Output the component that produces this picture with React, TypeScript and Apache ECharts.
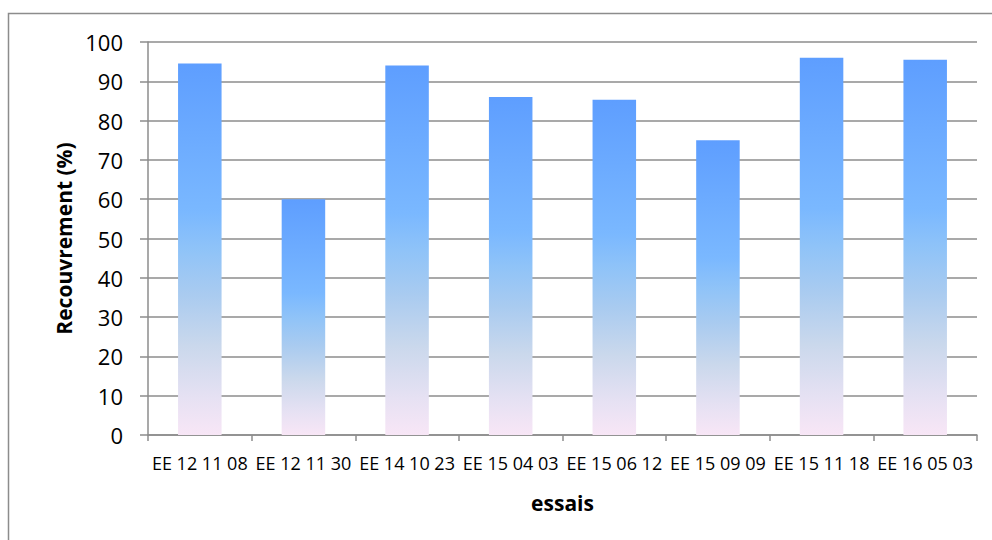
import React, { useEffect, useRef } from "react";
import * as echarts from "echarts";

const categories = [
  "EE 12 11 08",
  "EE 12 11 30",
  "EE 14 10 23",
  "EE 15 04 03",
  "EE 15 06 12",
  "EE 15 09 09",
  "EE 15 11 18",
  "EE 16 05 03",
];
const recouvrement = [94.5, 60, 94, 86, 85.3, 75, 96, 95.5];
const yTitle = "Recouvrement (%)";
const xTitle = "essais";

export default function App() {
  const ref = useRef<HTMLDivElement>(null);
  useEffect(() => {
    if (!ref.current) return;
    const chart = echarts.init(ref.current, undefined, { renderer: "svg" });
    const font = "'Open Sans', 'Noto Sans', sans-serif";
    chart.setOption({
      animation: false,
      backgroundColor: "#ffffff",
      graphic: [
        {
          type: "rect",
          shape: { x: 8.5, y: 13.5, width: 1100, height: 700 },
          style: { fill: "none", stroke: "#8c8c8c", lineWidth: 1.5 },
          silent: true,
        },
      ],
      grid: { left: 148, right: 15, top: 42, bottom: 105, containLabel: false },
      xAxis: {
        type: "category",
        data: categories,
        name: xTitle,
        nameLocation: "middle",
        nameGap: 57,
        nameTextStyle: { fontFamily: font, fontSize: 21, fontWeight: "bold", color: "#000" },
        axisLine: { show: true, lineStyle: { color: "#8c8c8c", width: 1.5 } },
        axisTick: { show: true, alignWithLabel: false, length: 6, lineStyle: { color: "#8c8c8c", width: 1.5 } },
        axisLabel: { interval: 0, fontFamily: font, fontSize: 18, color: "#000", margin: 19 },
        splitLine: { show: false },
      },
      yAxis: {
        type: "value",
        min: 0,
        max: 100,
        interval: 10,
        name: yTitle,
        nameLocation: "middle",
        nameGap: 74,
        nameRotate: 90,
        nameTextStyle: { fontFamily: font, fontSize: 21, fontWeight: "bold", color: "#000" },
        axisLine: { show: true, lineStyle: { color: "#8c8c8c", width: 1.5 } },
        axisTick: { show: true, length: 8, lineStyle: { color: "#8c8c8c", width: 1.5 } },
        axisLabel: { fontFamily: font, fontSize: 22, color: "#000", margin: 25 },
        splitLine: { show: true, lineStyle: { color: "#8c8c8c", width: 1.5 } },
      },
      series: [
        {
          type: "bar",
          data: recouvrement,
          barWidth: "42%",
          itemStyle: {
            color: new echarts.graphic.LinearGradient(0, 0, 0, 1, [
              { offset: 0, color: "#5e9eff" },
              { offset: 0.4, color: "#7ab8ff" },
              { offset: 0.5, color: "#8fc3f8" },
              { offset: 0.62, color: "#a9cbf0" },
              { offset: 0.76, color: "#cad8ec" },
              { offset: 0.9, color: "#e6e1f3" },
              { offset: 1, color: "#f8e6f6" },
            ]),
          },
        },
      ],
    });
    return () => chart.dispose();
  }, []);
  return (
    <div
      ref={ref}
      style={{ position: "absolute", left: 0, top: 0, width: 992, height: 540 }}
    />
  );
}
